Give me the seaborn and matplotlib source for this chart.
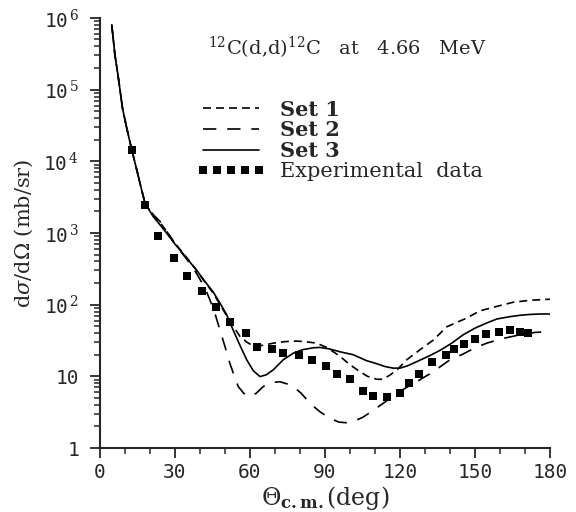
import numpy as np
import pandas as pd
import matplotlib
matplotlib.use("Agg")
import matplotlib.pyplot as plt
from matplotlib.lines import Line2D
from matplotlib.ticker import FixedLocator, LogLocator, NullFormatter, FuncFormatter
import seaborn as sns

# calculated angular distributions, three potential sets
x_set1 = [4.7, 6, 7.3, 9, 10.7, 12.7, 14.7, 16.5, 18, 21.3, 24, 26.7, 30, 34.7, 38.7, 42, 45.3, 48, 50.7,
          53.3, 56, 58.7, 61.3, 65, 69.3, 74, 78.7, 82, 86.7, 91, 96, 100, 104, 107, 110.7, 113, 116, 119,
          122.7, 128, 133.3, 138.7, 146.7, 152, 160, 165.3, 172, 180]
y_set1 = [8e5, 3e5, 1.5e5, 5.5e4, 2.9e4, 1.45e4, 7600, 4200, 2600, 1750, 1400, 1050, 720, 450, 300, 205, 145, 100, 70,
          50, 36, 30, 26.5, 27, 29, 30.5, 31, 30.5, 29, 25, 19, 14.5, 11.6, 10, 9.1, 9.1, 10.4, 12.5,
          17, 23.5, 32, 49, 65, 82, 97, 108, 115, 119]

x_set2 = [4.7, 6, 7.3, 9, 10.7, 12.7, 14.7, 16.5, 18, 21.3, 24, 26.7, 30, 34.7, 38.7, 42, 44, 46, 48, 50, 52,
          54, 55.3, 57.5, 60, 62.5, 65.3, 68.5, 72, 75, 77.3, 80.5, 84, 88, 92, 95.5, 98.7, 102, 105.3, 109,
          113.3, 118, 122, 126.7, 133.3, 140, 145.3, 150, 154.7, 160, 168, 174, 180]
y_set2 = [8e5, 3e5, 1.5e5, 5.5e4, 2.9e4, 1.45e4, 7600, 4200, 2600, 1800, 1450, 1050, 700, 430, 270, 170, 116, 75, 44, 26, 15,
          9.5, 7.2, 5.8, 5.2, 5.8, 7.2, 8.2, 8.4, 7.8, 7.2, 5.8, 4.2, 3.2, 2.6, 2.3, 2.25, 2.4, 2.7, 3.3,
          4.2, 5.5, 6.8, 8.4, 11.6, 17, 20.5, 25, 29, 33, 38, 41, 42]

x_set3 = [4.7, 6, 7.3, 9, 10.7, 12.7, 14.7, 16.5, 18, 21.3, 24, 26.7, 30, 34.7, 38.7, 42, 45.3, 48, 50.7, 53.3,
          56, 58.7, 61.3, 64, 66.5, 69.3, 73.3, 77.3, 81, 85.3, 88, 92, 96, 101.3, 106.7, 110.7, 114, 117.3,
          120, 123, 126.7, 132, 136, 140.7, 145.3, 150, 155, 158.7, 164, 168, 172, 176, 180]
y_set3 = [8e5, 3e5, 1.5e5, 5.5e4, 2.9e4, 1.45e4, 7600, 4200, 2600, 1690, 1300, 990, 700, 445, 300, 210, 150, 105, 72, 44,
          27, 17, 12, 9.9, 10.5, 12.3, 17, 21, 23.5, 25, 25.3, 24, 22, 20, 16.5, 15, 13.7, 13,
          13, 14, 16, 19.5, 23, 29, 38, 47, 56, 63, 68, 71, 73, 74, 74]

# measured cross sections
x_exp = [12.7, 18, 23.2, 29.6, 34.9, 41, 46.6, 52, 58.4, 62.7, 69, 73.3, 79.6, 85, 90.4, 94.7, 100, 105.3, 109.3,
         114.9, 120.1, 123.5, 127.6, 133, 138.3, 141.6, 145.7, 150, 154.3, 159.6, 163.9, 168, 171.3]
y_exp = [14500, 2450, 910, 445, 251, 155, 94, 57, 40, 25.7, 24.3, 21.4, 19.9, 16.7, 13.8, 10.8, 9.1, 6.2, 5.4,
         5.1, 5.8, 8.0, 10.8, 15.7, 19.9, 23.8, 28.5, 33, 39, 42, 44, 42, 40.7]

set_names = ["Set 1", "Set 2", "Set 3"]
x_ticks = [0, 30, 60, 90, 120, 150, 180]
y_ticks = [1, 10, 100, 1e3, 1e4, 1e5, 1e6]
y_labels = ["1", "10", r"10$^{\,2}$", r"10$^{\,3}$", r"10$^{\,4}$", r"10$^{\,5}$", r"10$^{\,6}$"]

df = pd.concat([pd.DataFrame({"theta": x_set1, "xs": y_set1, "set": "Set 1"}),
                pd.DataFrame({"theta": x_set2, "xs": y_set2, "set": "Set 2"}),
                pd.DataFrame({"theta": x_set3, "xs": y_set3, "set": "Set 3"})])
dexp = pd.DataFrame({"theta": x_exp, "xs": y_exp})

sns.set_style("ticks")
plt.rcParams["font.family"] = ["DejaVu Serif"]
plt.rcParams["mathtext.fontset"] = "dejavuserif"

lw = 1.2
dash = {"Set 1": (4.8, 3.0), "Set 2": (8.0, 6.5), "Set 3": ""}

fig = plt.figure(figsize=(5.76, 5.12), dpi=100)
ax = fig.add_axes([0.1736, 0.125, 0.7812, 0.84])

sns.lineplot(data=df, x="theta", y="xs", style="set", dashes=dash, color="k", lw=lw,
             estimator=None, sort=True, legend=False, ax=ax)
sns.scatterplot(data=dexp, x="theta", y="xs", marker="s", s=34, color="k", linewidth=0, legend=False, ax=ax,
                zorder=3)

ax.set_yscale("log")
ax.set_xlim(0, 180), ax.set_ylim(1, 1e6)
ax.xaxis.set_major_locator(FixedLocator(x_ticks))
ax.xaxis.set_minor_locator(FixedLocator(np.arange(0, 181, 10)))
ax.yaxis.set_major_locator(FixedLocator(y_ticks))
ax.yaxis.set_minor_locator(LogLocator(base=10, subs=np.arange(2, 10)))
ax.yaxis.set_minor_formatter(NullFormatter())
ax.yaxis.set_major_formatter(FuncFormatter(lambda v, p: y_labels[int(round(np.log10(v)))]))
ax.xaxis.set_major_formatter(FuncFormatter(lambda v, p: "%d" % v))

for lab in ax.get_xticklabels() + ax.get_yticklabels():
    lab.set_family("DejaVu Sans Mono")
ax.tick_params(which="major", direction="out", length=7, width=1.3, labelsize=14)
ax.tick_params(axis="y", pad=8), ax.tick_params(axis="x", pad=4)
ax.tick_params(which="minor", direction="out", length=4, width=1.1)
sns.despine(ax=ax)
for s in ["left", "bottom"]:
    ax.spines[s].set_linewidth(1.5)

ax.set_xlabel(r"$\Theta_{\mathbf{c.m.}}$(deg)", fontsize=17, labelpad=1)
ax.set_ylabel(r"d$\sigma$/d$\Omega$ (mb/sr)", fontsize=15, labelpad=6)

ax.text(0.24, 0.93, r"$^{12}$C(d,d)$^{12}$C   at   4.66   MeV", transform=ax.transAxes,
        fontsize=14, va="center", ha="left")

handles = [Line2D([], [], color="k", lw=lw, dashes=dash["Set 1"]),
           Line2D([], [], color="k", lw=lw, dashes=dash["Set 2"]),
           Line2D([], [], color="k", lw=lw),
           Line2D([], [], color="k", ls="none", marker="s", ms=5.5, mew=0)]
leg = ax.legend(handles, set_names + ["Experimental  data"], loc="upper left", bbox_to_anchor=(0.215, 0.81),
                frameon=False, fontsize=15, numpoints=5, handlelength=3.3, handletextpad=0.7,
                labelspacing=0.04, borderpad=0, borderaxespad=0)
for t in leg.get_texts()[:3]:
    t.set_fontweight("bold")

plt.savefig("out.png", dpi=100)
